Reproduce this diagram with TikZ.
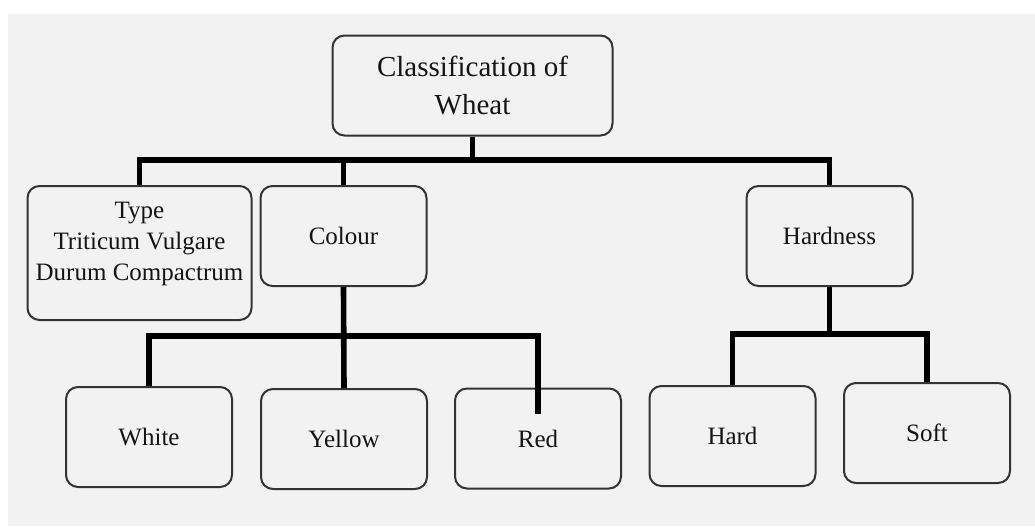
\documentclass[tikz,border=0pt]{standalone}
\usepackage{fontspec}
\setmainfont{Liberation Serif}
\definecolor{bgcol}{HTML}{F2F2F2}
\definecolor{edgecol}{HTML}{333333}
\tikzset{
  box/.style={
    draw=edgecol,
    rectangle,
    rounded corners=6pt,
    line width=1pt,
    minimum width=83pt,
    minimum height=50pt,
    inner sep=0pt,
    text=black!92,
    font=\fontsize{12.5}{15.5}\selectfont,
  },
  bus/.style={
    line width=2.8pt,
    black,
  },
}

\begin{document}
\begin{tikzpicture}[x=0.5pt,y=-0.5pt]
    \useasboundingbox (0,0) rectangle (1035,526);
    \fill[white] (0,0) rectangle (1035,526);
    \fill[bgcol] (8,14) rectangle (1035,526);

    % top level
    \node[box, minimum width=140pt, align=center,
      font=\fontsize{14.5}{19}\selectfont] (wheat) at (472.5,85.5)
      {Classification of\\Wheat};

    % second level
    \node[box, minimum width=112pt, minimum height=67pt] (type) at (139.5,253)
      {\raisebox{5pt}[\height][\depth]{\begin{tabular}{@{}c@{}}Type\\
       Triticum Vulgare\\Durum Compactrum\end{tabular}}};
    \node[box] (colour) at (343.5,236) {Colour};
    \node[box] (hardness) at (829.5,236) {Hardness};

    % third level
    \node[box] (white) at (149,437) {White};
    \node[box] (yellow) at (344,439) {Yellow};
    \node[box] (red) at (538,438.5) {Red};
    \node[box] (hard) at (732.5,436) {Hard};
    \node[box] (soft) at (927,433) {Soft};

    % buses
    \coordinate (topbus) at (472.5,160);
    \coordinate (colbus) at (343.5,336);
    \coordinate (hardbus) at (829.5,334);
    \coordinate (redtip) at ([yshift=-13pt]red.north);

    \draw[bus] (wheat.south) -- (topbus);
    \draw[bus] (type.north) |- (topbus) -| (hardness.north);
    \draw[bus] (colour.north) -- (colour.north |- topbus);

    \draw[bus] (colour.south) -- (yellow.north);
    \draw[bus] (white.north) |- (colbus) -| (redtip);

    \draw[bus] (hardness.south) -- (hardbus);
    \draw[bus] (hard.north) |- (hardbus) -| (soft.north);
\end{tikzpicture}
\end{document}
